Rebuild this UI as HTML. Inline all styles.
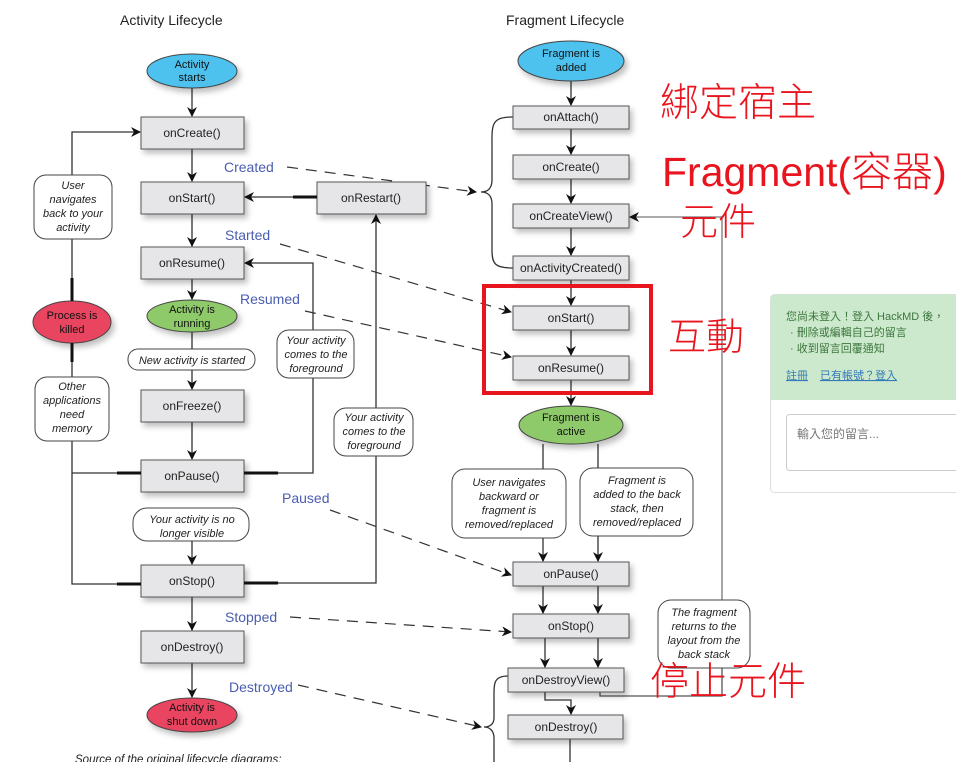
<!DOCTYPE html>
<html><head><meta charset="utf-8"><style>
body{margin:0;background:#fff;width:956px;height:762px;overflow:hidden;position:relative;font-family:"Liberation Sans",sans-serif}
svg{position:absolute;left:0;top:0}
.r{position:absolute;color:#e8141e;font-family:"Liberation Sans","Noto Sans CJK TC",sans-serif;white-space:nowrap;line-height:1;font-weight:300}
</style></head><body>
<svg width="956" height="762" viewBox="0 0 956 762" font-family="Liberation Sans, sans-serif">
<defs>
<marker id="a" markerWidth="10" markerHeight="10" refX="9" refY="5" orient="auto" markerUnits="userSpaceOnUse"><path d="M0,0 L10,5 L0,10 L3,5z" fill="#111"/></marker>
<filter id="s" x="-20%" y="-20%" width="150%" height="160%"><feDropShadow dx="3" dy="4" stdDeviation="3" flood-color="#000" flood-opacity="0.25"/></filter>
</defs>
<text x="120" y="25" font-size="14" fill="#222">Activity Lifecycle</text>
<text x="506" y="25" font-size="14" fill="#222">Fragment Lifecycle</text>
<g stroke="#333" stroke-width="1.3" fill="none">
<line x1="192" y1="88" x2="192" y2="116" marker-end="url(#a)"/>
<line x1="192" y1="149" x2="192" y2="181" marker-end="url(#a)"/>
<line x1="192" y1="214" x2="192" y2="246" marker-end="url(#a)"/>
<line x1="192" y1="279" x2="192" y2="299" marker-end="url(#a)"/>
<line x1="192" y1="332" x2="192" y2="389" marker-end="url(#a)"/>
<line x1="192" y1="422" x2="192" y2="459" marker-end="url(#a)"/>
<line x1="192" y1="541" x2="192" y2="564" marker-end="url(#a)"/>
<line x1="192" y1="597" x2="192" y2="630" marker-end="url(#a)"/>
<line x1="192" y1="663" x2="192" y2="697" marker-end="url(#a)"/>
<polyline points="72,175 72,132 140,132" marker-end="url(#a)"/>
<line x1="72" y1="239" x2="72" y2="301"/>
<line x1="72" y1="343" x2="72" y2="377"/>
<polyline points="72,441 72,584 141,584"/>
<line x1="72" y1="473" x2="141" y2="473"/>
<polyline points="244,473 313,473 313,378"/>
<polyline points="313,330 313,263 245,263" marker-end="url(#a)"/>
<polyline points="244,583 376,583 376,456"/>
<line x1="376" y1="408" x2="376" y2="215" marker-end="url(#a)"/>
<line x1="317" y1="197" x2="245" y2="197" marker-end="url(#a)"/>
<line x1="571" y1="81" x2="571" y2="105" marker-end="url(#a)"/>
<line x1="571" y1="129" x2="571" y2="154" marker-end="url(#a)"/>
<line x1="571" y1="179" x2="571" y2="203" marker-end="url(#a)"/>
<line x1="571" y1="228" x2="571" y2="255" marker-end="url(#a)"/>
<line x1="571" y1="280" x2="571" y2="305" marker-end="url(#a)"/>
<line x1="571" y1="330" x2="571" y2="355" marker-end="url(#a)"/>
<line x1="571" y1="380" x2="571" y2="405" marker-end="url(#a)"/>
<line x1="543" y1="444" x2="543" y2="469"/>
<line x1="598" y1="444" x2="598" y2="468"/>
<line x1="543" y1="538" x2="543" y2="561" marker-end="url(#a)"/>
<line x1="598" y1="536" x2="598" y2="561" marker-end="url(#a)"/>
<line x1="543" y1="586" x2="543" y2="613" marker-end="url(#a)"/>
<line x1="598" y1="586" x2="598" y2="613" marker-end="url(#a)"/>
<line x1="545" y1="638" x2="545" y2="667" marker-end="url(#a)"/>
<line x1="598" y1="638" x2="598" y2="667" marker-end="url(#a)"/>
<polyline points="545,692 545,700 571,700 571,714" marker-end="url(#a)"/>
<line x1="570" y1="739" x2="570" y2="762"/>
<polyline points="600,692 600,696 722,696 722,668" stroke="#555"/>
<polyline points="722,600 722,217 630,217" stroke="#777" marker-end="url(#a)"/>
<path d="M513,117 C490,117 492,125 492,150 L492,180 C492,188 488,192 481,192 C488,192 492,196 492,204 L492,250 C492,264 495,268 513,268"/>
<path d="M508,676 C493,676 494,684 494,700 L494,718 C494,724 490,727 484,727 C490,727 494,731 494,738 L494,762"/>
</g>
<g stroke="#333" stroke-width="1.2" fill="none" stroke-dasharray="11,8">
<line x1="287" y1="167" x2="476" y2="192" marker-end="url(#a)"/>
<line x1="280" y1="244" x2="511" y2="312" marker-end="url(#a)"/>
<line x1="305" y1="311" x2="511" y2="357" marker-end="url(#a)"/>
<line x1="330" y1="510" x2="511" y2="575" marker-end="url(#a)"/>
<line x1="290" y1="617" x2="511" y2="632" marker-end="url(#a)"/>
<line x1="298" y1="685" x2="481" y2="727" marker-end="url(#a)"/>
</g>
<g font-size="14" fill="#4a5db0">
<text x="224" y="172">Created</text><text x="225" y="240">Started</text><text x="240" y="304">Resumed</text>
<text x="282" y="503">Paused</text><text x="225" y="622">Stopped</text><text x="229" y="692">Destroyed</text>
</g>
<g stroke="#444" stroke-width="1" filter="url(#s)">
<ellipse cx="192" cy="71" rx="45" ry="17" fill="#4ec2ee"/>
<ellipse cx="192" cy="316" rx="45" ry="16" fill="#8fca6a"/>
<ellipse cx="192" cy="715" rx="45" ry="17" fill="#e94561"/>
<ellipse cx="72" cy="322" rx="39" ry="21" fill="#e94561"/>
<ellipse cx="571" cy="61" rx="53" ry="20" fill="#4ec2ee"/>
<ellipse cx="571" cy="425" rx="52" ry="19" fill="#8fca6a"/>
</g>
<g font-size="11" fill="#111" text-anchor="middle">
<text x="192" y="68">Activity</text><text x="192" y="81">starts</text>
<text x="192" y="313">Activity is</text><text x="192" y="327">running</text>
<text x="192" y="711">Activity is</text><text x="192" y="725">shut down</text>
<text x="72" y="319">Process is</text><text x="72" y="333">killed</text>
<text x="571" y="57">Fragment is</text><text x="571" y="71">added</text>
<text x="571" y="421">Fragment is</text><text x="571" y="435">active</text>
</g>
<g fill="#e6e6e8" stroke="#555" stroke-width="1" filter="url(#s)">
<rect x="141" y="117" width="103" height="32"/><rect x="141" y="182" width="103" height="32"/>
<rect x="141" y="247" width="103" height="32"/><rect x="141" y="390" width="103" height="32"/>
<rect x="141" y="460" width="103" height="32"/><rect x="141" y="565" width="103" height="32"/>
<rect x="141" y="631" width="103" height="32"/><rect x="317" y="182" width="109" height="32"/>
<rect x="513" y="106" width="116" height="23"/><rect x="513" y="155" width="116" height="24"/>
<rect x="513" y="204" width="116" height="24"/><rect x="513" y="256" width="116" height="24"/>
<rect x="513" y="306" width="116" height="24"/><rect x="513" y="356" width="116" height="24"/>
<rect x="513" y="562" width="116" height="24"/><rect x="513" y="614" width="116" height="24"/>
<rect x="508" y="668" width="116" height="24"/><rect x="508" y="715" width="115" height="24"/>
</g>
<g stroke="#111" stroke-width="3">
<line x1="117" y1="473" x2="141" y2="473"/><line x1="244" y1="473" x2="278" y2="473"/>
<line x1="117" y1="584" x2="141" y2="584"/><line x1="244" y1="583" x2="278" y2="583"/>
<line x1="293" y1="197" x2="317" y2="197"/><line x1="72" y1="278" x2="72" y2="301"/><line x1="72" y1="343" x2="72" y2="362"/>
</g>
<g font-size="12" fill="#222" text-anchor="middle">
<text x="192" y="137">onCreate()</text><text x="192" y="202">onStart()</text><text x="192" y="267">onResume()</text>
<text x="192" y="410">onFreeze()</text><text x="192" y="480">onPause()</text><text x="192" y="585">onStop()</text>
<text x="192" y="651">onDestroy()</text><text x="371" y="202">onRestart()</text>
<text x="571" y="121">onAttach()</text><text x="571" y="171">onCreate()</text><text x="571" y="220">onCreateView()</text>
<text x="571" y="272">onActivityCreated()</text><text x="571" y="322">onStart()</text><text x="571" y="372">onResume()</text>
<text x="571" y="578">onPause()</text><text x="571" y="630">onStop()</text><text x="566" y="684">onDestroyView()</text>
<text x="566" y="731">onDestroy()</text>
</g>
<g fill="#fff" stroke="#444" stroke-width="1">
<rect x="34" y="175" width="78" height="64" rx="12"/><rect x="35" y="377" width="74" height="64" rx="12"/>
<rect x="128" y="349" width="127" height="21" rx="10"/><rect x="133" y="508" width="116" height="33" rx="14"/>
<rect x="277" y="330" width="77" height="48" rx="12"/><rect x="334" y="408" width="79" height="48" rx="12"/>
<rect x="452" y="469" width="114" height="69" rx="13"/><rect x="580" y="468" width="113" height="68" rx="13"/>
<rect x="658" y="600" width="92" height="68" rx="13"/>
</g>
<g font-size="11" font-style="italic" fill="#222" text-anchor="middle">
<text x="73" y="189">User</text><text x="73" y="203">navigates</text><text x="73" y="217">back to your</text><text x="73" y="231">activity</text>
<text x="72" y="390">Other</text><text x="72" y="404">applications</text><text x="72" y="418">need</text><text x="72" y="432">memory</text>
<text x="192" y="364">New activity is started</text>
<text x="192" y="523">Your activity is no</text><text x="192" y="537">longer visible</text>
<text x="316" y="344">Your activity</text><text x="316" y="358">comes to the</text><text x="316" y="372">foreground</text>
<text x="374" y="421">Your activity</text><text x="374" y="435">comes to the</text><text x="374" y="449">foreground</text>
<text x="509" y="486">User navigates</text><text x="509" y="500">backward or</text><text x="509" y="514">fragment is</text><text x="509" y="528">removed/replaced</text>
<text x="637" y="484">Fragment is</text><text x="637" y="498">added to the back</text><text x="637" y="512">stack, then</text><text x="637" y="526">removed/replaced</text>
<text x="704" y="616">The fragment</text><text x="704" y="630">returns to the</text><text x="704" y="644">layout from the</text><text x="704" y="658">back stack</text>
</g>
<text x="75" y="763" font-size="11.5" font-style="italic" fill="#222">Source of the original lifecycle diagrams:</text>
<rect x="484" y="286" width="167" height="107" fill="none" stroke="#e8141e" stroke-width="4"/>
<rect x="770.5" y="294.5" width="190" height="198" rx="4" fill="#fff" stroke="#ddd"/>
<path d="M770.5,400 L770.5,298 Q770.5,294.5 774,294.5 L956,294.5 L956,400 Z" fill="#cde9cd"/>
<rect x="786.5" y="414.5" width="175" height="56" rx="3" fill="#fff" stroke="#ccc"/>
<g font-family="Liberation Sans, Noto Sans CJK TC, sans-serif" font-size="11">
<text x="786" y="320" fill="#3c763d">您尚未登入！登入 HackMD 後，</text>
<text x="790" y="336" fill="#3c763d">· 刪除或編輯自己的留言</text>
<text x="790" y="352" fill="#3c763d">· 收到留言回覆通知</text>
<text x="786" y="379" fill="#337ab7" text-decoration="underline">註冊</text>
<text x="820" y="379" fill="#337ab7" text-decoration="underline">已有帳號？登入</text>
<text x="797" y="438" fill="#777" font-size="12">輸入您的留言...</text>
</g>
</svg>
<div class="r" style="left:660px;top:84px;font-size:39px">綁定宿主</div>
<div class="r" style="left:662px;top:152px;font-size:41px">Fragment(容器)</div>
<div class="r" style="left:680px;top:204px;font-size:38px">元件</div>
<div class="r" style="left:668px;top:319px;font-size:38px">互動</div>
<div class="r" style="left:650px;top:663px;font-size:39px">停止元件</div>
</body></html>
